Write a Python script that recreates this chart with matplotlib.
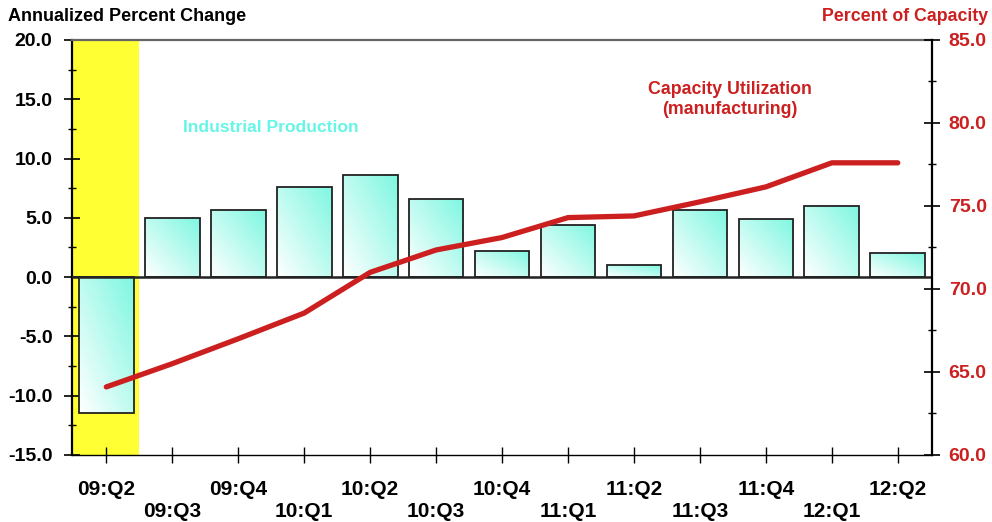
import numpy as np
import matplotlib.pyplot as plt
from matplotlib.ticker import MultipleLocator
from matplotlib.colors import LinearSegmentedColormap

plt.rcParams['font.family'] = ['Liberation Sans', 'DejaVu Sans']
plt.rcParams['font.weight'] = 'bold'

quarters = ['09:Q2', '09:Q3', '09:Q4', '10:Q1', '10:Q2', '10:Q3', '10:Q4',
            '11:Q1', '11:Q2', '11:Q3', '11:Q4', '12:Q1', '12:Q2']
ind_prod = [-11.5, 5.0, 5.7, 7.6, 8.6, 6.6, 2.2, 4.4, 1.0, 5.7, 4.9, 6.0, 2.0]
cap_util = [64.1, 65.5, 67.0, 68.55, 71.0, 72.35, 73.1, 74.3, 74.4, 75.25,
            76.15, 77.6, 77.6]

red = '#cc1f1f'
x = np.arange(len(quarters))

fig = plt.figure(figsize=(9.92, 5.22), dpi=100)
ax = fig.add_axes([0.0726, 0.1284, 0.867, 0.795])

# highlight the first quarter
ax.axvspan(-0.5, 0.5, color='#ffff33', zorder=0, lw=0)

cmap = LinearSegmentedColormap.from_list('bar', ['#ffffff', '#7ef7e1'])
grad = np.add.outer(np.linspace(0, 1, 64), np.linspace(0, 1, 64)) / 2

bars = ax.bar(x, ind_prod, width=0.83, facecolor='none', edgecolor='#222222',
              linewidth=1.3, zorder=3)
for b in bars:
    x0, y0 = b.get_x(), b.get_y()
    w, h = b.get_width(), b.get_height()
    ylo, yhi = min(y0, y0 + h), max(y0, y0 + h)
    im = ax.imshow(grad, cmap=cmap, extent=(x0, x0 + w, ylo, yhi),
                   origin='lower', aspect='auto', zorder=2)
    im.set_clip_path(b)

ax.axhline(0, color='#222222', lw=1.8, zorder=4)

ax.set_xlim(-0.52, 12.52)
ax.set_ylim(-15, 20)
left_ticks = np.arange(-15, 20.1, 5)
ax.set_yticks(left_ticks)
ax.set_yticklabels([f'{v:.1f}' for v in left_ticks])
ax.yaxis.set_minor_locator(MultipleLocator(2.5))

ax.set_xticks(x)
ax.set_xticklabels([q if i % 2 == 0 else '\n' + q for i, q in enumerate(quarters)],
                   fontsize=15, fontweight='bold', linespacing=1.22)
ax.tick_params(axis='x', direction='inout', length=12, width=1, pad=12)
ax.tick_params(axis='y', which='major', direction='inout', length=12, width=1.2,
               labelsize=14, pad=8)
ax.tick_params(axis='y', which='minor', direction='inout', length=6, width=1)

ax.spines['top'].set_color('#666666')
ax.spines['top'].set_linewidth(1.6)
ax.spines['left'].set_linewidth(1.6)
ax.spines['bottom'].set_linewidth(1.0)
ax.spines['right'].set_visible(False)

ax2 = ax.twinx()
ax2.plot(x, cap_util, color=red, lw=3.8, solid_capstyle='round', zorder=5)
ax2.set_ylim(60, 85)
right_ticks = np.arange(60, 85.1, 5)
ax2.set_yticks(right_ticks)
ax2.set_yticklabels([f'{v:.1f}' for v in right_ticks])
ax2.yaxis.set_minor_locator(MultipleLocator(2.5))
ax2.tick_params(axis='y', which='major', direction='inout', length=12, width=1.2,
                labelsize=14, labelcolor=red, pad=6)
ax2.tick_params(axis='y', which='minor', direction='inout', length=6, width=1)
for s in ['top', 'left', 'bottom']:
    ax2.spines[s].set_visible(False)
ax2.spines['right'].set_linewidth(1.6)

fig.text(0.008, 0.968, 'Annualized Percent Change', fontsize=13,
         fontweight='bold', ha='left', va='center')
fig.text(0.996, 0.968, 'Percent of Capacity', fontsize=12.8,
         fontweight='bold', ha='right', va='center', color=red)

ax.text(2.5, 12.65, 'Industrial Production', fontsize=12.6, fontweight='bold',
        color='#66f5e6', ha='center', va='center')
ax2.text(9.45, 81.4, 'Capacity Utilization\n(manufacturing)', fontsize=12.8,
         fontweight='bold', color=red, ha='center', va='center',
         linespacing=1.25)

fig.savefig('out.png', dpi=100)
